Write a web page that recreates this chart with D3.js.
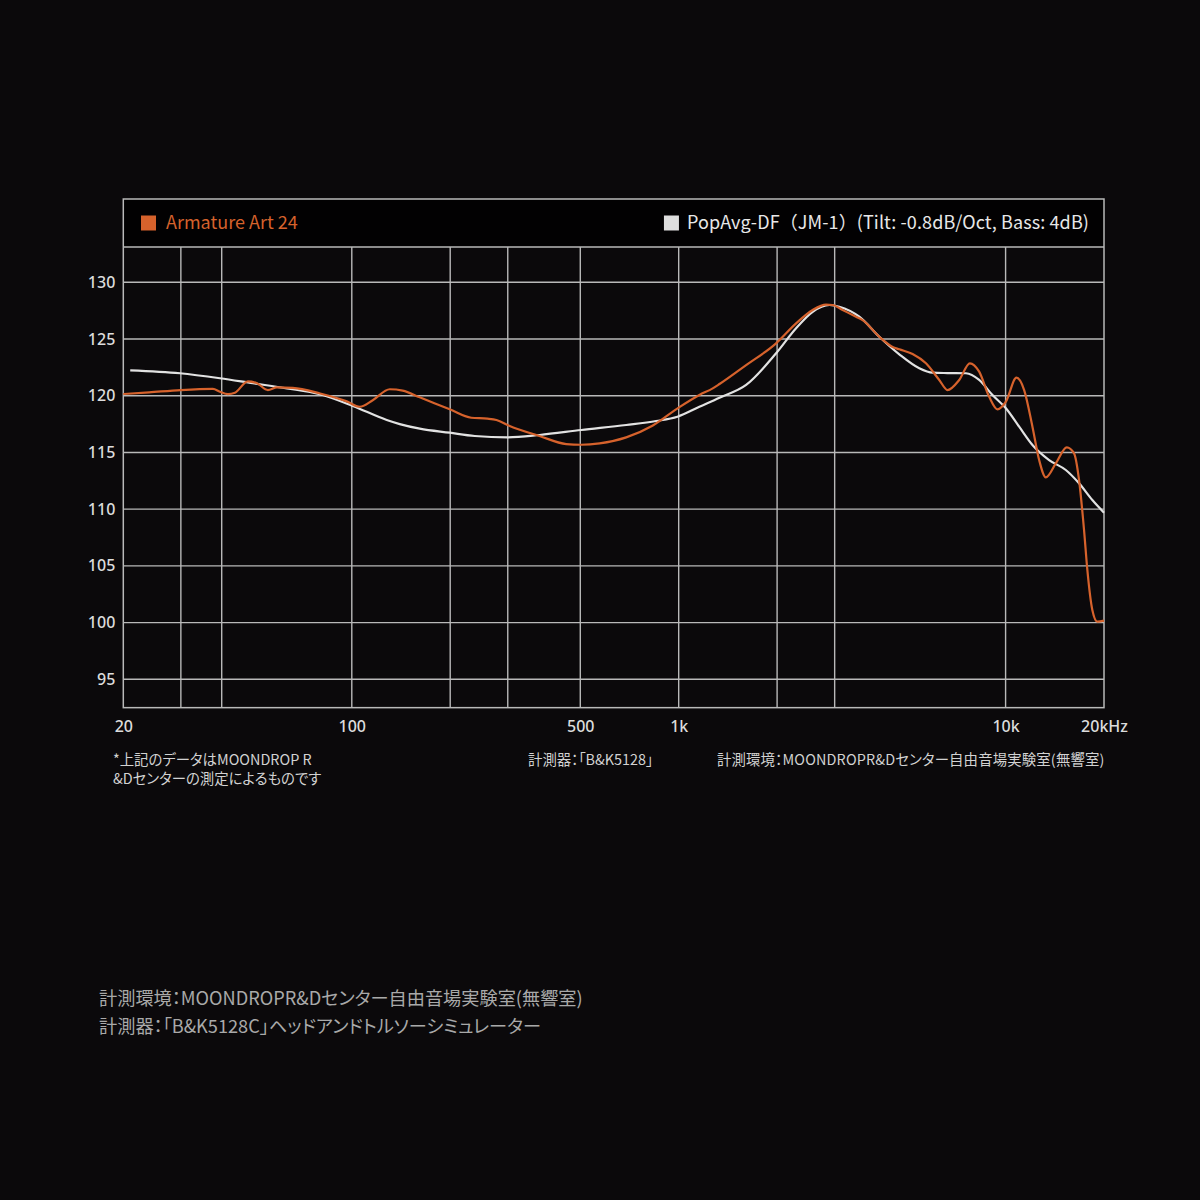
<!DOCTYPE html>
<html>
<head>
<meta charset="utf-8">
<script src="https://cdn.jsdelivr.net/npm/d3@7"></script>
<style>
  html, body { margin: 0; padding: 0; background: #0b090b; }
  svg { display: block; }
  .jp { font-feature-settings: "palt"; }
</style>
</head>
<body>
<div id="chart"></div>
<script>
// --- DATA ---

// Armature Art 24 (measured)
const artFreq = [20, 24, 30, 37.6, 39.5, 41.8, 43.9, 48.1, 51.3, 55.4, 59, 66, 80, 96.5, 105.8, 115.9,
  130.7, 143.1, 161.4, 199.3, 232, 260, 277, 304, 375, 453, 503, 573, 691, 831, 1005, 1157, 1271, 1333,
  1608, 1986, 2286, 2570, 2824, 2958, 3173, 3487, 3653, 4109, 4512, 4730, 5194, 5707, 6267, 6643, 7213,
  7776, 8302, 8908, 9443, 10022, 10797, 11397, 12082, 12666, 13276, 14245, 15390, 16196, 16776, 17378,
  17787, 18422, 19082, 20000];
const artDb = [120.15, 120.3, 120.5, 120.6, 120.35, 120.15, 120.27, 121.27, 121.1, 120.5, 120.74, 120.7,
  120.2, 119.5, 119.03, 119.6, 120.57, 120.45, 119.86, 118.8, 118.06, 117.98, 117.86, 117.33, 116.45,
  115.74, 115.68, 115.8, 116.33, 117.36, 119.0, 120.07, 120.65, 121.03, 122.7, 124.62, 126.38, 127.56,
  128.03, 128.0, 127.56, 126.97, 126.67, 125.2, 124.3, 124.09, 123.68, 122.86, 121.39, 120.5, 121.39,
  122.86, 122.12, 119.9, 118.8, 119.48, 121.59, 120.5, 117.27, 114.33, 112.8, 114.04, 115.45, 114.92,
  112.57, 108.16, 104.64, 101.11, 100.08, 100.17];

// PopAvg-DF target
const targetFreq = [21, 29.8, 39.5, 49.8, 63.3, 79.9, 100.7, 127.9, 140.2, 161.4, 199.3, 237.7, 299.7,
  375.5, 503.5, 691, 853, 991, 1157, 1333, 1608, 1986, 2286, 2570, 2890, 3100, 3569, 4109, 4730, 5444,
  5979, 6643, 7561, 8302, 9117, 10022, 11003, 12082, 13588, 15283, 16776, 18422, 20000];
const targetDb = [122.24, 121.98, 121.54, 121.1, 120.65, 120.13, 119.1, 117.86, 117.5, 117.1, 116.74,
  116.45, 116.33, 116.54, 116.98, 117.42, 117.77, 118.15, 119.03, 119.83, 120.95, 123.74, 125.95, 127.4,
  128.0, 127.85, 126.97, 125.2, 123.65, 122.42, 122.03, 122.0, 121.98, 121.39, 120.06, 118.89, 117.27,
  115.66, 114.33, 113.45, 112.28, 110.81, 109.69];

// axes
const yTicks = [95, 100, 105, 110, 115, 120, 125, 130];
const xGrid = [30, 40, 100, 200, 300, 500, 1000, 2000, 3000, 10000];
const xLabelFreq = [20, 100, 500, 1000, 10000, 20000];
const xLabelText = ["20", "100", "500", "1k", "10k", "20kHz"];

// texts
const legendArt = "Armature Art 24";
const legendTarget = "PopAvg-DF（JM-1）(Tilt: -0.8dB/Oct, Bass: 4dB)";
const noteLeft = ["*上記のデータはMOONDROP R", "&Dセンターの測定によるものです"];
const noteMid = "計測器：「B&K5128」";
const noteRight = "計測環境：MOONDROPR&Dセンター自由音場実験室(無響室)";
const footer = ["計測環境：MOONDROPR&Dセンター自由音場実験室(無響室)",
  "計測器：「B&K5128C」ヘッドアンドトルソーシミュレーター"];

// --- CHART ---

const W = 1200, H = 1200;
const left = 123.3, right = 1104;
const frameTop = 199, legendBottom = 247;
const orange = "#d6622c", grey = "#e2e2e2", gridCol = "#b9b9b9";
const font = "'Noto Sans CJK JP', 'Noto Sans', sans-serif";

const svg = d3.select("#chart").append("svg")
  .attr("width", W).attr("height", H);

svg.append("rect").attr("width", W).attr("height", H).attr("fill", "#0b090b");

const x = d3.scaleLog().domain([20, 20000]).range([left, right]);
const y = d3.scaleLinear().domain([95, 130]).range([679.3, 282.3]);
const plotBottom = y(92.5);

// legend band
svg.append("rect")
  .attr("x", left).attr("y", frameTop)
  .attr("width", right - left).attr("height", legendBottom - frameTop)
  .attr("fill", "#020102");

// grid lines
const grid = svg.append("g").attr("class", "grid")
  .attr("stroke", gridCol).attr("stroke-width", 1.4);

grid.selectAll(".hline").data(yTicks).join("line")
  .attr("x1", left).attr("x2", right)
  .attr("y1", d => y(d)).attr("y2", d => y(d));

grid.selectAll(".vline").data(xGrid).join("line")
  .attr("x1", d => x(d)).attr("x2", d => x(d))
  .attr("y1", legendBottom).attr("y2", plotBottom);

// frame
svg.append("rect")
  .attr("x", left).attr("y", frameTop)
  .attr("width", right - left).attr("height", plotBottom - frameTop)
  .attr("fill", "none").attr("stroke", gridCol).attr("stroke-width", 1.5);
svg.append("line")
  .attr("x1", left).attr("x2", right)
  .attr("y1", legendBottom).attr("y2", legendBottom)
  .attr("stroke", gridCol).attr("stroke-width", 1.4);

// y axis labels
const yAxis = svg.append("g")
  .attr("transform", "translate(" + left + ",0)")
  .call(d3.axisLeft(y).tickValues(yTicks).tickSize(0).tickPadding(8));
yAxis.select(".domain").remove();
yAxis.selectAll("text")
  .attr("fill", "#dcdcdc").style("font-family", "'Noto Sans', sans-serif")
  .style("font-size", "16px").style("font-weight", 500);

// x axis labels
const xAxis = svg.append("g")
  .attr("transform", "translate(0," + plotBottom + ")")
  .call(d3.axisBottom(x).tickValues(xLabelFreq).tickSize(0).tickPadding(13)
    .tickFormat((d, i) => xLabelText[i]));
xAxis.select(".domain").remove();
xAxis.selectAll("text")
  .attr("fill", "#dcdcdc").style("font-family", "'Noto Sans', sans-serif")
  .style("font-size", "16px").style("font-weight", 500);

// curves
const line = d3.line()
  .x(d => x(d[0]))
  .y(d => y(d[1]))
  .curve(d3.curveMonotoneX);

svg.append("path")
  .datum(d3.zip(targetFreq, targetDb))
  .attr("d", line)
  .attr("fill", "none").attr("stroke", grey).attr("stroke-width", 2.2);

svg.append("path")
  .datum(d3.zip(artFreq, artDb))
  .attr("d", line)
  .attr("fill", "none").attr("stroke", orange).attr("stroke-width", 2.2);

// legend
const legY = (frameTop + legendBottom) / 2;
svg.append("rect")
  .attr("x", 141).attr("y", legY - 7.5).attr("width", 15).attr("height", 15)
  .attr("fill", orange);
svg.append("text")
  .attr("x", 166).attr("y", legY).attr("dy", "0.36em")
  .attr("fill", orange).style("font-family", font).style("font-size", "18px")
  .text(legendArt);

const tText = svg.append("text")
  .attr("x", 1089).attr("y", legY).attr("dy", "0.36em")
  .attr("text-anchor", "end")
  .attr("fill", "#e8e8e8").style("font-family", font).style("font-size", "18px")
  .style("letter-spacing", "0.1px")
  .text(legendTarget);
const tBox = tText.node().getBBox();
svg.append("rect")
  .attr("x", tBox.x - 23).attr("y", legY - 7.5).attr("width", 15).attr("height", 15)
  .attr("fill", "#dedede");

// notes under the chart
const notes = svg.append("g").attr("class", "jp")
  .attr("fill", "#d2d2d2").style("font-family", font).style("font-size", "14.4px");
notes.selectAll(".nl").data(noteLeft).join("text")
  .attr("x", 113).attr("y", (d, i) => 765 + i * 19).text(d => d);
notes.append("text").attr("x", 528).attr("y", 765).text(noteMid);
notes.append("text").attr("x", 717).attr("y", 765)
  .style("letter-spacing", "0.15px").text(noteRight);

// footer
svg.append("g").attr("class", "jp")
  .attr("fill", "#a9a9a9").style("font-family", font).style("font-size", "18.2px")
  .selectAll("text").data(footer).join("text")
  .attr("x", 99).attr("y", (d, i) => 1005 + i * 28).text(d => d);
</script>
</body>
</html>
